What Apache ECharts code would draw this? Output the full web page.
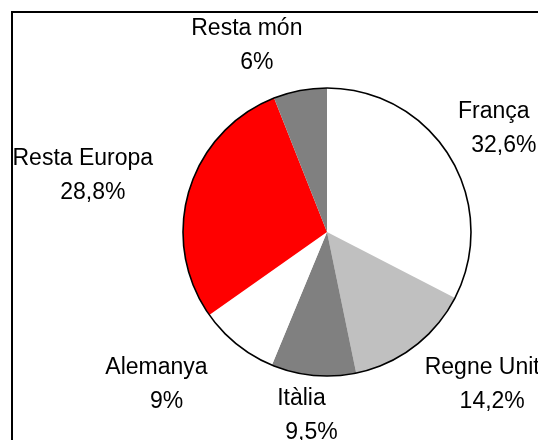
<!DOCTYPE html>
<html>
<head>
<meta charset="utf-8">
<style>
  html, body { margin: 0; padding: 0; background: #fff; }
  #chart { width: 538px; height: 440px; }
</style>
<script src="https://cdn.jsdelivr.net/npm/echarts@6/dist/echarts.min.js"></script>
</head>
<body>
<div id="chart"></div>
<script>
// dades del gràfic (percentatges)
var categories = ['França', 'Regne Unit', 'Itàlia', 'Alemanya', 'Resta Europa', 'Resta món'];
var values = [32.6, 14.2, 9.5, 9, 28.8, 6];
var colors = ['#ffffff', '#c0c0c0', '#808080', '#ffffff', '#ff0000', '#808080'];

(function(){
    var box = document.getElementById('chart');
    var myChart = echarts.init(box);

    var cx = 327, cy = 232, r = 144;
    // petits ajustos de posició de les etiquetes (com a l'original)
    var labelNudge = [[-16, 8], [21, -24], [-7, -13], [-34, -18], [-17, 12], [-42, 14]];

    var total = values.reduce(function(a, b){ return a + b; }, 0);
    // angle mig de cada sector (des de dalt, sentit horari)
    var midAngles = [];
    var acc = 0;
    values.forEach(function(v){
        midAngles.push((acc + v / 2) / total * Math.PI * 2);
        acc += v;
    });

    var font = { fontSize: 23, lineHeight: 34, color: '#000', fontFamily: 'Arial, "Liberation Sans", sans-serif' };

    var option = {
        animation: false,
        textStyle: { fontFamily: 'Arial, "Liberation Sans", sans-serif' },
        graphic: [
            {   // marc del gràfic
                type: 'rect',
                shape: { x: 12, y: 12, width: 600, height: 500 },
                style: { fill: 'none', stroke: '#000', lineWidth: 2 },
                silent: true
            }
        ],
        series: [
            {
                type: 'pie',
                center: [cx, cy],
                radius: r,
                startAngle: 90,
                clockwise: true,
                data: categories.map(function(name, i){
                    return { name: name, value: values[i], itemStyle: { color: colors[i] } };
                }),
                label: {
                    show: true,
                    position: 'outside',
                    overflow: 'none',
                    color: '#000',
                    fontSize: 23,
                    lineHeight: 34,
                    formatter: function(p){
                        return '{n|' + p.name + '}\n{v|' + String(p.value).replace('.', ',') + '%}';
                    },
                    rich: {
                        n: font,
                        v: Object.assign({ padding: [0, 0, 0, 20] }, font)
                    }
                },
                labelLine: { show: false },
                labelLayout: function(params){
                    var i = params.dataIndex;
                    var a = midAngles[i];
                    var dx = Math.sin(a), dy = -Math.cos(a);
                    var w = params.labelRect.width, h = params.labelRect.height;
                    var d = r + 16 + Math.abs(dx) * w / 2 + Math.abs(dy) * h / 2;
                    return {
                        x: cx + dx * d + labelNudge[i][0],
                        y: cy + dy * d + labelNudge[i][1],
                        align: 'center',
                        verticalAlign: 'middle'
                    };
                },
                itemStyle: { borderWidth: 0 },
                emphasis: { disabled: true }
            },
            {   // contorn exterior del pastís
                type: 'pie',
                center: [cx, cy],
                radius: r,
                silent: true,
                label: { show: false },
                labelLine: { show: false },
                data: [{ value: 1, itemStyle: { color: 'rgba(0,0,0,0)', borderColor: '#000', borderWidth: 1.6 } }]
            }
        ]
    };
    myChart.setOption(option);
})();
</script>
</body>
</html>
